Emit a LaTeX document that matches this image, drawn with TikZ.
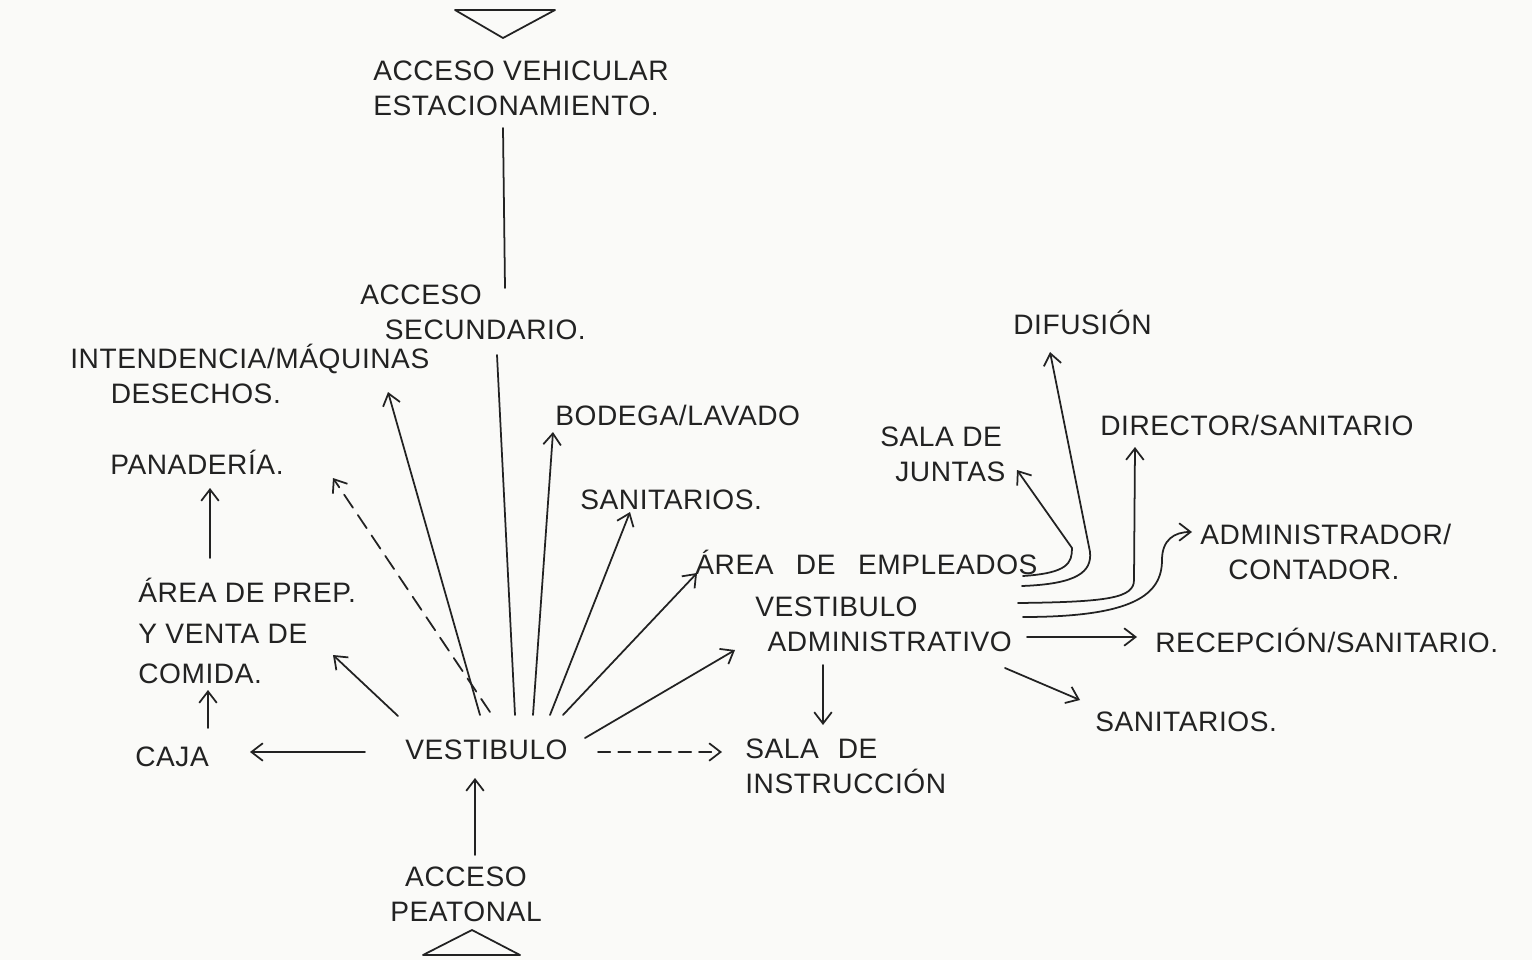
\documentclass[tikz,border=0pt]{standalone}
\usepackage{fontspec}
\setmainfont{Liberation Sans}[LetterSpace=2]
\usetikzlibrary{arrows.meta,calc}
\definecolor{ink}{HTML}{222222}
\definecolor{paper}{HTML}{FAFAF8}
\newcommand\lblfont{\fontsize{16}{20}\selectfont}

\begin{document}
\begin{tikzpicture}[x=0.02cm,y=-0.02cm]
\tikzset{
  lbl/.style={inner sep=0pt, anchor=west, align=left, font=\lblfont, text=ink},
  link/.style={draw=ink, line width=1pt, line cap=round, line join=round},
  arr/.style={link, -{Straight Barb[length=6.5pt,width=10pt]}},
  dsh/.style={dash pattern=on 7pt off 4.5pt},
  longdsh/.style={dash pattern=on 9pt off 5pt},
}
\fill[paper] (0,0) rectangle (1532,960);
\useasboundingbox (0,0) rectangle (1532,960);

% access markers
\draw[link] (455,10) -- (555,10) -- (503,38) -- cycle;
\draw[link] (423,955) -- (520,955) -- (472,930) -- cycle;

% labels
\node[lbl] (vehic)  at (373,88)  {ACCESO VEHICULAR\\ESTACIONAMIENTO.};
\node[lbl] (secund) at (360,312) {ACCESO\\\hspace*{14pt}SECUNDARIO.};
\node[lbl] (intend) at (70,374)  {INTENDENCIA/MÁQUINAS\\\hspace*{23pt}DESECHOS.};
\node[lbl] (panad)  at (110,462) {PANADERÍA.};
\node[lbl] (prep)   at (138,631) {ÁREA DE PREP.\\[3pt]Y VENTA DE\\[3pt]COMIDA.};
\node[lbl] (caja)   at (135,757) {CAJA};
\node[lbl] (vest)   at (405,750) {VESTIBULO};
\node[lbl, align=center] (peat) at (390,894) {ACCESO\\PEATONAL};
\node[lbl] (instr)  at (745,766) {SALA\hspace{6pt} DE\\INSTRUCCIÓN};
\node[lbl] (bodega) at (555,415) {BODEGA/LAVADO};
\node[lbl] (sanit1) at (580,500) {SANITARIOS.};
\node[lbl] (emple)  at (695,562) {ÁREA\hspace{8pt} DE\hspace{8pt} EMPLEADOS};
\node[lbl] (vadm)   at (755,624) {VESTIBULO\\\hspace*{7pt}ADMINISTRATIVO};
\node[lbl] (difus)  at (1013,322) {DIFUSIÓN};
\node[lbl] (juntas) at (880,454) {SALA DE\\\hspace*{8.5pt}JUNTAS};
\node[lbl] (direc)  at (1100,425) {DIRECTOR/SANITARIO};
\node[lbl] (admin)  at (1200,552) {ADMINISTRADOR/\\\hspace*{16pt}CONTADOR.};
\node[lbl] (recep)  at (1155,640) {RECEPCIÓN/SANITARIO.};
\node[lbl] (sanit2) at (1095,722) {SANITARIOS.};

% vertical axis
\draw[link] ($(vehic.west)+(130,40)$) -- ($(secund.west)+(145,-24)$);
\draw[link] ($(vest.west)+(110,-35)$) -- ($(secund.west)+(137,43)$);

% fan from the main lobby
\draw[arr] ($(vest.west)+(75,-35)$) -- ($(intend.west)+(318,18)$);
\draw[arr, longdsh] ($(vest.west)+(85,-38)$) -- ($(panad.west)+(223,16)$);
\draw[arr] ($(vest.west)+(-7,-34)$) -- ($(prep.west)+(195,24)$);
\draw[arr] ($(vest.west)+(-40,2)$) -- ($(caja.west)+(115,-5)$);
\draw[arr] ($(caja.west)+(73,-29)$) -- ($(prep.west)+(70,59)$);
\draw[arr] ($(prep.west)+(72,-73)$) -- ($(panad.west)+(100,26)$);
\draw[arr] ($(peat.west)+(85,-39)$) -- ($(vest.west)+(70,28)$);
\draw[arr, dsh] ($(vest.west)+(193,2)$) -- ($(instr.west)+(-23,-14)$);
\draw[arr] ($(vest.west)+(128,-35)$) -- ($(bodega.west)+(-2,17)$);
\draw[arr] ($(vest.west)+(145,-35)$) -- ($(sanit1.west)+(50,12)$);
\draw[arr] ($(vest.west)+(158,-35)$) -- ($(emple.west)+(2,11)$);
\draw[arr] ($(vest.west)+(180,-12)$) -- ($(vadm.west)+(-20,26)$);

% administrative lobby
\draw[arr] ($(vadm.west)+(68,41)$) -- ($(instr.west)+(78,-41)$);
\draw[arr] ($(vadm.west)+(272,13)$) -- ($(recep.west)+(-18,-3)$);
\draw[arr] ($(vadm.west)+(250,44)$) -- ($(sanit2.west)+(-15,-22)$);

% bent connectors towards the offices
\draw[arr] ($(emple.west)+(328,14)$) .. controls +(45,-3) and +(0,15) ..
  ($(juntas.west)+(192,94)$) -- ($(juntas.west)+(137,16)$);
\draw[arr] ($(emple.west)+(327,24)$) .. controls +(55,-2) and +(2,20) ..
  ($(difus.west)+(77,230)$) -- ($(difus.west)+(37,30)$);
\draw[arr] ($(vadm.west)+(263,-21)$) .. controls +(90,-1) and +(0,18) ..
  ($(direc.west)+(34,155)$) -- ($(direc.west)+(35,22)$);
\draw[arr] ($(vadm.west)+(268,-7)$) .. controls +(110,0) and +(0,35) ..
  ($(admin.west)+(-38,8)$) .. controls +(0,-20) and +(-18,0) ..
  ($(admin.west)+(-8,-20)$);
\end{tikzpicture}
\end{document}
